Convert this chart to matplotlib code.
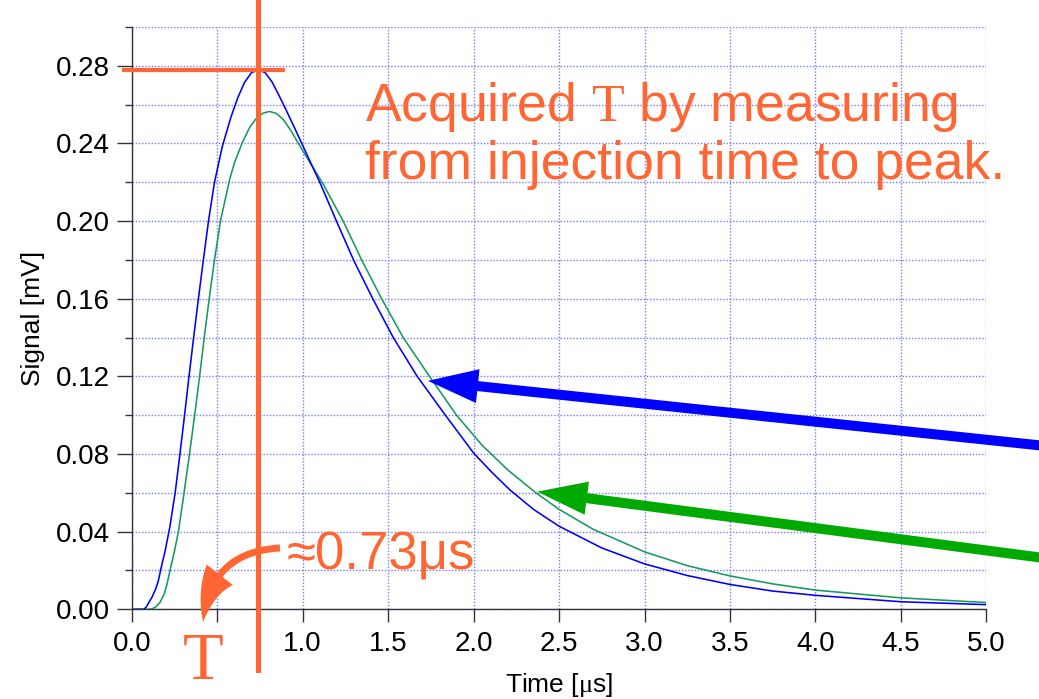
import numpy as np
import matplotlib
matplotlib.use('Agg')
import matplotlib.pyplot as plt
from matplotlib.patches import FancyArrowPatch, ArrowStyle
from matplotlib.ticker import MultipleLocator, FormatStrFormatter, FuncFormatter

plt.rcParams['font.family'] = ['Liberation Sans', 'DejaVu Sans']
plt.rcParams['mathtext.fontset'] = 'custom'
plt.rcParams['mathtext.rm'] = 'Liberation Serif'
plt.rcParams['mathtext.it'] = 'Liberation Serif'

# blue trace
blue_t = [0.0, 0.05, 0.07, 0.085, 0.10, 0.12, 0.14, 0.155, 0.171, 0.195, 0.222,
          0.254, 0.282, 0.309, 0.335, 0.362, 0.390, 0.419, 0.449, 0.483, 0.53,
          0.58, 0.62, 0.66, 0.70, 0.74, 0.78, 0.82, 0.86, 0.90, 0.95, 1.0,
          1.105, 1.20, 1.30, 1.41, 1.53, 1.67, 1.835, 2.0, 2.1, 2.21, 2.35,
          2.5, 2.75, 3.0, 3.25, 3.5, 3.75, 4.0, 4.5, 5.0]
blue_v = [0.0, 0.0, 0.0, 0.0012, 0.0035, 0.0065, 0.0105, 0.0145, 0.021, 0.030, 0.042,
          0.06, 0.08, 0.10, 0.12, 0.14, 0.16, 0.18, 0.20, 0.2195, 0.2385,
          0.2535, 0.2635, 0.2715, 0.2764, 0.278, 0.2765, 0.2718, 0.265, 0.2578, 0.2485, 0.239,
          0.219, 0.1995, 0.1795, 0.16, 0.14, 0.12, 0.10, 0.0805, 0.0712, 0.0617, 0.0515,
          0.0428, 0.0316, 0.0234, 0.0174, 0.0128, 0.0094, 0.0072, 0.0039, 0.0024]

# green trace
green_t = [0.0, 0.10, 0.12, 0.14, 0.165, 0.19, 0.205, 0.224, 0.25, 0.273, 0.306,
           0.338, 0.368, 0.397, 0.424, 0.453, 0.484, 0.52, 0.573, 0.60, 0.647,
           0.69, 0.727, 0.765, 0.805, 0.845, 0.885, 0.93, 0.975, 1.04, 1.117,
           1.237, 1.345, 1.462, 1.588, 1.742, 1.90, 2.05, 2.2, 2.36, 2.5,
           2.70, 3.0, 3.25, 3.5, 3.75, 4.0, 4.5, 5.0]
green_v = [0.0, 0.0, 0.0003, 0.0012, 0.0035, 0.008, 0.0125, 0.02, 0.03, 0.04, 0.06,
           0.08, 0.10, 0.12, 0.14, 0.16, 0.18, 0.2005, 0.2215, 0.2298, 0.2405,
           0.2483, 0.2527, 0.2555, 0.2565, 0.2555, 0.2525, 0.2468, 0.24, 0.2305, 0.2195,
           0.20, 0.18, 0.16, 0.14, 0.12, 0.10, 0.0845, 0.0718, 0.0603, 0.0515,
           0.0412, 0.0296, 0.0225, 0.0172, 0.0131, 0.0099, 0.0059, 0.0035]

peak_t = 0.737
peak_v = 0.278
note_lines = ['Acquired $\\mathrm{T}$ by measuring', 'from injection time to peak.']
peak_label = '\u22480.73\u03bcs'

orange = '#ff6633'
gridc = '#7878ff'

fig = plt.figure(figsize=(10.39, 6.99), dpi=100)
ax = fig.add_axes([0.1268, 0.1283, 0.8226, 0.8331])

ax.plot(blue_t, blue_v, color='#0000ff', lw=1.15, zorder=4)
ax.plot(green_t, green_v, color='#169a5e', lw=1.15, zorder=3)

ax.set_xlim(0, 5.0)
ax.set_ylim(0, 0.30)
ax.xaxis.set_major_locator(MultipleLocator(0.5))
ax.yaxis.set_major_locator(MultipleLocator(0.04))
ax.yaxis.set_minor_locator(MultipleLocator(0.02))
# the 0.5 label sits under the big "T"
ax.xaxis.set_major_formatter(FuncFormatter(lambda x, p: '' if abs(x - 0.5) < 1e-6 else '%.1f' % x))
ax.yaxis.set_major_formatter(FormatStrFormatter('%.2f'))

ax.grid(True, axis='y', which='both', color=gridc, linestyle=(0, (1, 1.3)), lw=1.0)
ax.grid(True, axis='x', which='major', color=gridc, linestyle=(0, (1, 1.3)), lw=1.0)
ax.set_axisbelow(True)

for s in ['top', 'right']:
    ax.spines[s].set_visible(False)
for s in ['left', 'bottom']:
    ax.spines[s].set_color('#333333')
    ax.spines[s].set_linewidth(1.0)

ax.tick_params(axis='y', which='major', length=10.5, width=1, color='#333333', labelsize=20, pad=5)
ax.tick_params(axis='y', which='minor', length=5, width=1, color='#333333')
ax.tick_params(axis='x', which='major', length=9.5, width=1, color='#333333', labelsize=20, pad=6)

ax.set_xlabel('Time [$\\mathrm{\\mu}$s]', fontsize=19, labelpad=10)
ax.set_ylabel('Signal [mV]', fontsize=19, labelpad=8)

# peak markers
ax.plot([peak_t, peak_t], [-0.0313, 0.33], color=orange, lw=3.6, clip_on=False, zorder=6)
ax.plot([-0.045, 0.885], [peak_v, peak_v], color=orange, lw=3.0, clip_on=False, zorder=6)

ax.text(1.365, 0.2517, note_lines[0], color=orange, fontsize=38.5, va='baseline', ha='left', zorder=7)
ax.text(1.365, 0.2218, note_lines[1], color=orange, fontsize=38.5, va='baseline', ha='left', zorder=7)
ax.text(0.905, 0.0203, peak_label, color=orange, fontsize=38, va='baseline', ha='left', zorder=7)
ax.text(0.42, -0.0359, 'T', color=orange, fontsize=48, family='Liberation Serif',
        va='baseline', ha='center', clip_on=False, zorder=7)

# curved arrow to T
arr = FancyArrowPatch((0.867, 0.0316), (0.417, -0.0065),
                      arrowstyle=ArrowStyle.Simple(head_length=36, head_width=24, tail_width=5),
                      connectionstyle='arc3,rad=0.43', mutation_scale=1,
                      color=orange, lw=0, shrinkA=0, shrinkB=0, clip_on=False, zorder=7)
ax.add_patch(arr)

# pointers to the two traces
arr_b = FancyArrowPatch((5.34, 0.0842), (1.733, 0.1177),
                        arrowstyle=ArrowStyle.Simple(head_length=36, head_width=24.5, tail_width=7.2),
                        mutation_scale=1, color='#0000ff', lw=0, shrinkA=0, shrinkB=0,
                        clip_on=False, zorder=8)
ax.add_patch(arr_b)
arr_g = FancyArrowPatch((5.34, 0.0264), (2.372, 0.0606),
                        arrowstyle=ArrowStyle.Simple(head_length=36, head_width=24, tail_width=7.2),
                        mutation_scale=1, color='#00aa00', lw=0, shrinkA=0, shrinkB=0,
                        clip_on=False, zorder=8)
ax.add_patch(arr_g)

fig.savefig('out.png', dpi=100)
